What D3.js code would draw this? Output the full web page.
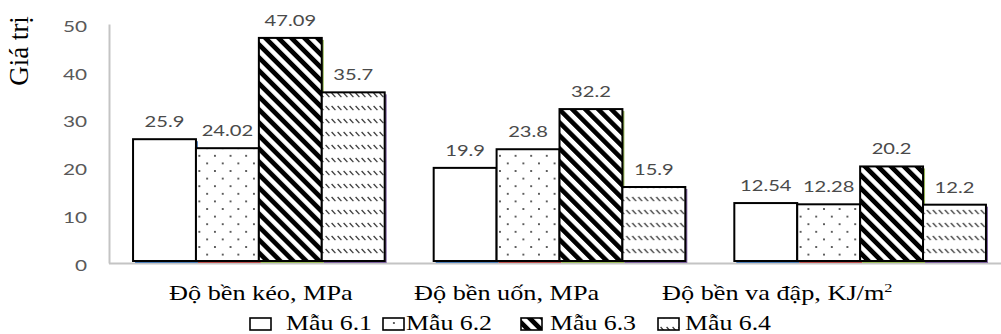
<!DOCTYPE html>
<html>
<head>
<meta charset="utf-8">
<script src="https://cdn.jsdelivr.net/npm/d3@7"></script>
<style>
  html, body { margin: 0; padding: 0; background: #fff; }
  svg { display: block; }
  .serif { font-family: "Liberation Serif", "Tinos", "Times New Roman", Times, "DejaVu Serif", serif; }
  .sans { font-family: Lato, "Open Sans", sans-serif; }
</style>
</head>
<body>
<svg id="chart" width="1001" height="334"></svg>
<script>
// ---- data ----
const categories = ["Độ bền kéo, MPa", "Độ bền uốn, MPa", "Độ bền va đập, KJ/m"];
const categorySup = ["", "", "2"];
const seriesNames = ["Mẫu 6.1", "Mẫu 6.2", "Mẫu 6.3", "Mẫu 6.4"];
const mau61 = [25.9, 19.9, 12.54];
const mau62 = [24.02, 23.8, 12.28];
const mau63 = [47.09, 32.2, 20.2];
const mau64 = [35.7, 15.9, 12.2];
const yTicks = [0, 10, 20, 30, 40, 50];
const yTitle = "Giá trị";

const seriesValues = [mau61, mau62, mau63, mau64];

// ---- styling ----
const edgeColors = ["#4f81bd", "#c0504d", "#9bbb59", "#8064a2"];
const fills = ["#ffffff", "url(#dots)", "url(#hatch)", "url(#dash)"];
const SX = 1.26; // horizontal stretch of the lettering

const svg = d3.select("#chart");
const defs = svg.append("defs");

// dotted fill
const pDots = defs.append("pattern").attr("id", "dots")
  .attr("patternUnits", "userSpaceOnUse").attr("width", 15.6).attr("height", 15.2);
pDots.append("rect").attr("width", 15.6).attr("height", 15.2).attr("fill", "#fff");
pDots.append("circle").attr("cx", 3.9).attr("cy", 3.8).attr("r", 0.95).attr("fill", "#222");
pDots.append("circle").attr("cx", 11.7).attr("cy", 11.4).attr("r", 0.95).attr("fill", "#222");

// wide downward diagonal stripes
const pHatch = defs.append("pattern").attr("id", "hatch")
  .attr("patternUnits", "userSpaceOnUse").attr("width", 9.2).attr("height", 9.2)
  .attr("patternTransform", "rotate(-45)");
pHatch.append("rect").attr("width", 9.2).attr("height", 9.2).attr("fill", "#fff");
pHatch.append("rect").attr("width", 4.7).attr("height", 9.2).attr("fill", "#000");

// dashed downward diagonal
const pDash = defs.append("pattern").attr("id", "dash")
  .attr("patternUnits", "userSpaceOnUse").attr("width", 6).attr("height", 13);
pDash.append("rect").attr("width", 6).attr("height", 13).attr("fill", "#fff");
pDash.append("path").attr("d", "M0.6,2 L4.4,6.2").attr("stroke", "#333")
  .attr("stroke-width", 1.2).attr("fill", "none");

// ---- scales ----
const x0 = d3.scaleBand().domain(categories).range([109, 1010])
  .paddingInner(0.163).paddingOuter(0.08);
const x1 = d3.scaleBand().domain(seriesNames).range([0, x0.bandwidth()]);
const y = d3.scaleLinear().domain([0, 50]).range([263, 24]);
const barBottom = y(0) - 2;

// ---- axes ----
const yAxis = d3.axisLeft(y).tickValues(yTicks).tickSize(0).tickSizeOuter(0);
const gy = svg.append("g").attr("transform", "translate(109,0)").call(yAxis);
gy.attr("font-family", null).attr("font-size", null);
gy.select(".domain").attr("stroke", "#c4c4c4").attr("stroke-width", 2);
gy.selectAll(".tick text")
  .attr("class", "sans")
  .attr("x", 0).attr("dy", "0.45em")
  .attr("transform", `translate(-22,0) scale(${SX + 0.04},1)`)
  .style("font-size", "16px").attr("fill", "#595959")
  .attr("text-anchor", "end");

svg.append("line")
  .attr("x1", 109).attr("x2", 1001).attr("y1", y(0) + 0.5).attr("y2", y(0) + 0.5)
  .attr("stroke", "#c4c4c4").attr("stroke-width", 2);

// ---- bars ----
const rows = categories.map((c, i) => ({
  cat: c,
  items: seriesNames.map((s, j) => ({ series: s, idx: j, value: seriesValues[j][i] }))
}));

const groups = svg.append("g").selectAll("g").data(rows).join("g")
  .attr("transform", d => `translate(${x0(d.cat)},0)`);

// coloured edge that peeks out beneath/right of each bar
groups.selectAll("rect.edge").data(d => d.items).join("rect")
  .attr("class", "edge")
  .attr("x", d => x1(d.series) + 2)
  .attr("y", d => y(d.value) + 2)
  .attr("width", x1.bandwidth())
  .attr("height", d => barBottom - y(d.value))
  .attr("fill", d => edgeColors[d.idx]);

groups.selectAll("rect.bar").data(d => d.items).join("rect")
  .attr("class", "bar")
  .attr("x", d => x1(d.series))
  .attr("y", d => y(d.value))
  .attr("width", x1.bandwidth())
  .attr("height", d => barBottom - y(d.value))
  .attr("fill", d => fills[d.idx])
  .attr("stroke", "#000").attr("stroke-width", 2);

groups.selectAll("text.val").data(d => d.items).join("text")
  .attr("class", "val sans")
  .attr("transform", d => `translate(${x1(d.series) + x1.bandwidth() / 2},${y(d.value) - 12}) scale(${SX},1)`)
  .attr("text-anchor", "middle")
  .style("font-size", "16px").attr("fill", "#4a4a4a")
  .text(d => String(d.value));

// ---- category labels ----
const labelX = [169, 414, 662];
categories.forEach((c, i) => {
  const t = svg.append("text")
    .attr("class", "serif")
    .attr("transform", `translate(${labelX[i]},300) scale(1.25,1)`)
    .style("font-size", "21px").attr("fill", "#000");
  t.append("tspan").text(c);
  if (categorySup[i]) {
    t.append("tspan").style("font-size", "13px").attr("dy", -8).text(categorySup[i]);
  }
});

// ---- y title ----
svg.append("text")
  .attr("class", "serif")
  .attr("transform", "translate(28,51) rotate(-90)")
  .attr("text-anchor", "middle")
  .style("font-size", "27px").attr("fill", "#000")
  .text(yTitle);

// ---- legend ----
const legBoxX = [250, 383, 521, 658];
const legTextX = [286, 406, 550, 685];
const legend = svg.append("g").selectAll("g").data(seriesNames).join("g");
legend.append("rect")
  .attr("x", (d, i) => legBoxX[i]).attr("y", 318)
  .attr("width", 21).attr("height", 12)
  .attr("fill", (d, i) => fills[i])
  .attr("stroke", "#000").attr("stroke-width", 1.6);
legend.append("text")
  .attr("class", "serif")
  .attr("transform", (d, i) => `translate(${legTextX[i]},330) scale(1.23,1)`)
  .style("font-size", "21px").attr("fill", "#000")
  .text(d => d);
</script>
</body>
</html>
